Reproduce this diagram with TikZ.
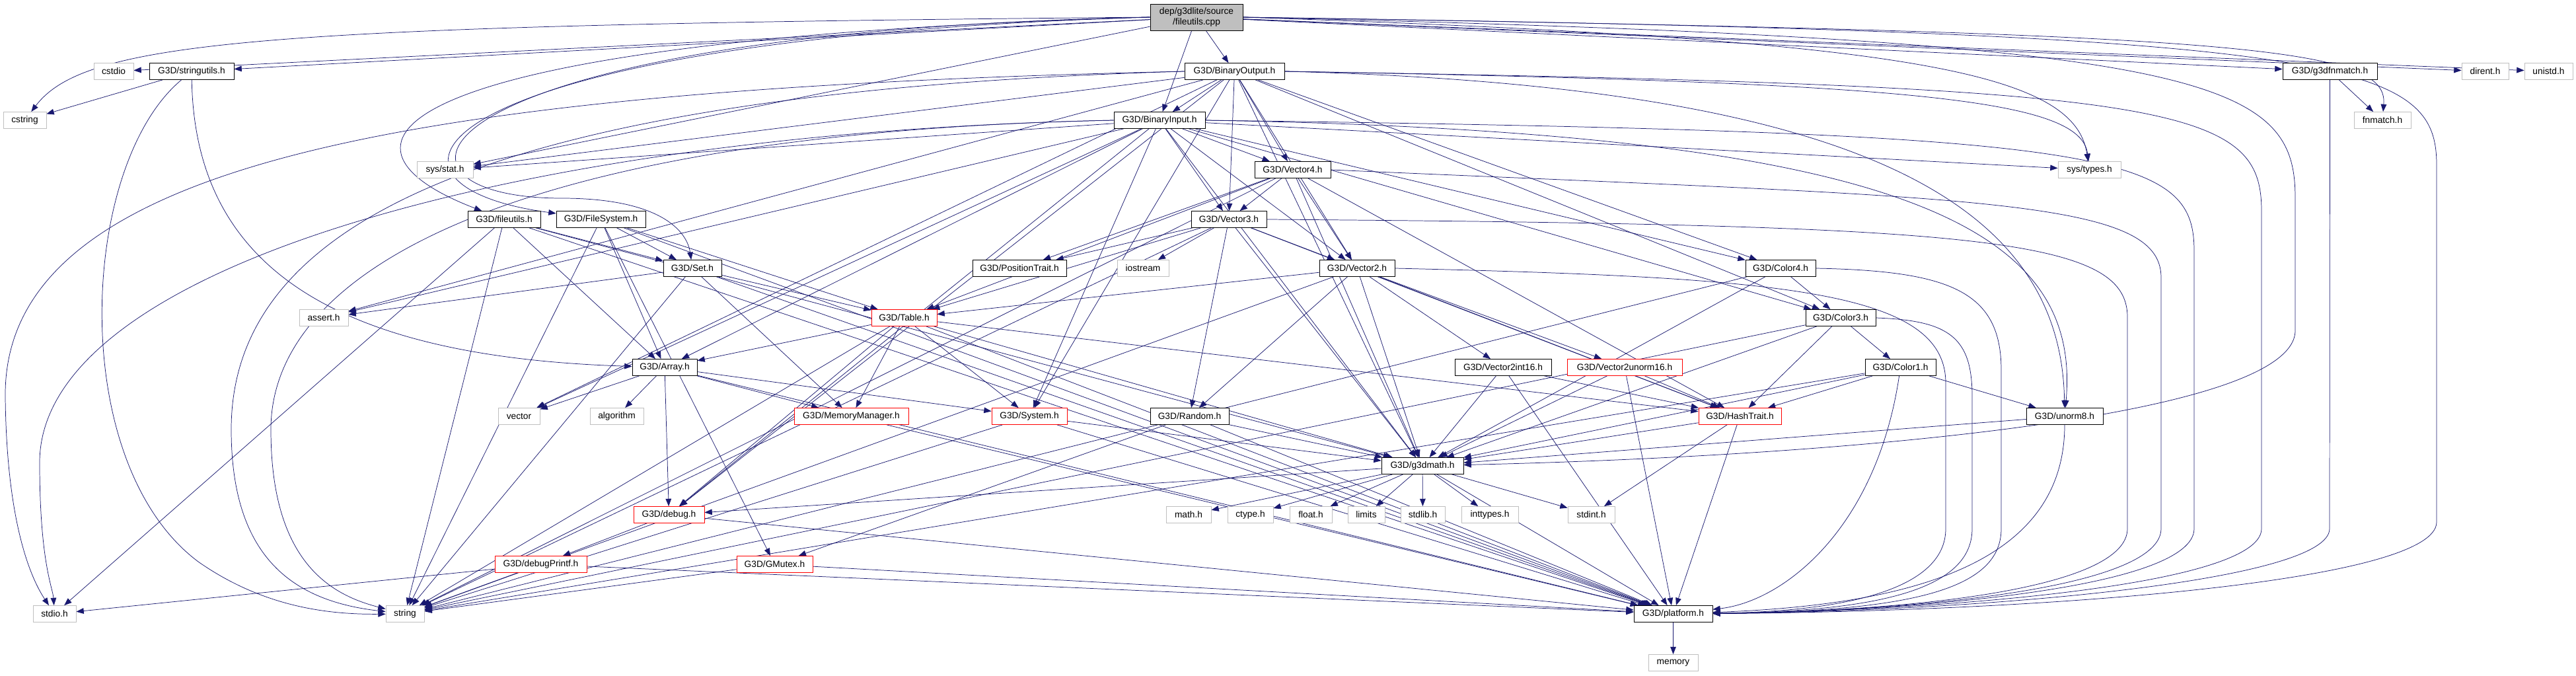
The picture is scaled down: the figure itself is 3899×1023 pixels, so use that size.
\documentclass[tikz,border=0pt]{standalone}
\usepackage{fontspec}
\setmainfont{Liberation Sans}
\usepackage{xcolor}
\usetikzlibrary{arrows.meta,backgrounds}
\definecolor{edgeblue}{RGB}{25,25,112}
\definecolor{sysgray}{RGB}{191,191,191}

\tikzset{
  hdr/.style={draw=black,fill=white,rectangle,line width=0.6pt,minimum height=18.75pt,inner sep=1pt,font=\fontsize{10.3}{12}\selectfont},
  syshdr/.style={hdr,draw=sysgray},
  cuthdr/.style={hdr,draw=red},
  wd/.style={minimum width=#1*0.75pt},
  dep/.style={draw=edgeblue,line width=0.55pt,-{Triangle[length=8.5pt,width=6.5pt]}}
}

\begin{document}
\begin{tikzpicture}[x=0.75pt,y=-0.75pt]
\useasboundingbox (0,0) rectangle (3899,1023);
% the file itself
\node[hdr,fill=sysgray,wd=140,minimum height=30pt,align=center] (fc) at (1811,26) {dep/g3dlite/source\\/fileutils.cpp};
% headers, row by row
\node[syshdr,wd=60] (cstdio) at (172,108) {cstdio};
\node[hdr,wd=128] (stringutils) at (290,108) {G3D/stringutils.h};
\node[hdr,wd=151] (binout) at (1868.5,108) {G3D/BinaryOutput.h};
\node[hdr,wd=143] (fnmatchg) at (3526.5,108) {G3D/g3dfnmatch.h};
\node[syshdr,wd=71] (dirent) at (3761.5,108) {dirent.h};
\node[syshdr,wd=73] (unistd) at (3857.5,108) {unistd.h};
\node[syshdr,wd=65] (cstring) at (37.5,182) {cstring};
\node[hdr,wd=138] (binin) at (1755,182) {G3D/BinaryInput.h};
\node[syshdr,wd=86] (fnmatch) at (3606,182) {fnmatch.h};
\node[syshdr,wd=85] (sysstat) at (673.5,257) {sys/stat.h};
\node[hdr,wd=115] (vec4) at (1956.5,257) {G3D/Vector4.h};
\node[syshdr,wd=95] (systypes) at (3162.5,257) {sys/types.h};
\node[hdr,wd=110] (fileutilsh) at (763,332) {G3D/fileutils.h};
\node[hdr,wd=135] (filesystem) at (909.5,332) {G3D/FileSystem.h};
\node[hdr,wd=114] (vec3) at (1860,332) {G3D/Vector3.h};
\node[hdr,wd=88] (set) at (1048,406) {G3D/Set.h};
\node[hdr,wd=142] (postrait) at (1543,406) {G3D/PositionTrait.h};
\node[syshdr,wd=78] (iostream) at (1730,406) {iostream};
\node[hdr,wd=114] (vec2) at (2054,406) {G3D/Vector2.h};
\node[hdr,wd=106] (color4) at (2695,406) {G3D/Color4.h};
\node[syshdr,wd=74] (assert) at (490,481) {assert.h};
\node[cuthdr,wd=99] (table) at (1368.5,481) {G3D/Table.h};
\node[hdr,wd=106] (color3) at (2786,481) {G3D/Color3.h};
\node[hdr,wd=98] (array) at (1006,556) {G3D/Array.h};
\node[hdr,wd=146] (v2i16) at (2275,556) {G3D/Vector2int16.h};
\node[cuthdr,wd=174] (v2u16) at (2459,556) {G3D/Vector2unorm16.h};
\node[hdr,wd=107] (color1) at (2876.5,556) {G3D/Color1.h};
\node[syshdr,wd=63] (vector) at (785.5,630) {vector};
\node[syshdr,wd=81] (algorithm) at (933.5,630) {algorithm};
\node[cuthdr,wd=173] (memmgr) at (1288.5,630) {G3D/MemoryManager.h};
\node[cuthdr,wd=114] (system) at (1558,630) {G3D/System.h};
\node[hdr,wd=119] (random) at (1800.5,630) {G3D/Random.h};
\node[cuthdr,wd=125] (hashtrait) at (2633.5,630) {G3D/HashTrait.h};
\node[hdr,wd=116] (unorm8) at (3125,630) {G3D/unorm8.h};
\node[hdr,wd=124] (g3dmath) at (2153,705) {G3D/g3dmath.h};
\node[cuthdr,wd=107] (debug) at (1012.5,779) {G3D/debug.h};
\node[syshdr,wd=68] (mathh) at (1799,779) {math.h};
\node[syshdr,wd=69] (ctype) at (1892.5,779) {ctype.h};
\node[syshdr,wd=64] (float) at (1984,779) {float.h};
\node[syshdr,wd=56] (limits) at (2068,779) {limits};
\node[syshdr,wd=67] (stdlib) at (2153.5,779) {stdlib.h};
\node[syshdr,wd=86] (inttypes) at (2255,779) {inttypes.h};
\node[syshdr,wd=71] (stdint) at (2408.5,779) {stdint.h};
\node[cuthdr,wd=139] (debugprintf) at (818.5,854) {G3D/debugPrintf.h};
\node[cuthdr,wd=115] (gmutex) at (1172.5,854) {G3D/GMutex.h};
\node[syshdr,wd=65] (stdio) at (82.5,929) {stdio.h};
\node[syshdr,wd=58] (string) at (613,929) {string};
\node[hdr,wd=119] (platform) at (2532.5,929) {G3D/platform.h};
\node[syshdr,wd=75] (memory) at (2532.5,1003) {memory};

\begin{scope}[on background layer]
\fill[white] (0,0) rectangle (3899,1023);
% includes of fileutils.cpp
\draw[dep] (fc.west) .. controls (400,38) and (130,60) .. (cstring);
\draw[dep] (fc) -- (cstdio);
\draw[dep] (fc) -- (stringutils);
\draw[dep] (fc) -- (binout);
\draw[dep] (fc) -- (binin);
\draw[dep] (fc.west) .. controls (560,60) and (470,220) .. (fileutilsh);
\draw[dep] (fc.west) .. controls (620,60) and (520,280) .. (filesystem);
\draw[dep] (fc.west) .. controls (600,50) and (540,300) .. (850,300) .. controls (1000,300) and (1040,350) .. (set);
\draw[dep] (fc) -- (sysstat);
\draw[dep] (fc.east) .. controls (2900,60) and (3140,110) .. (systypes);
\draw[dep] (fc) -- (fnmatchg);
\draw[dep] (fc.east) .. controls (3400,50) and (3615,70) .. (fnmatch);
\draw[dep] (fc) -- (dirent);
\draw[dep] (fc) -- (unistd);
\draw[dep] (fc.east) .. controls (3550,50) and (3688,90) .. (3688,250) -- (3688,790) .. controls (3688,880) and (3100,925) .. (platform);
\draw[dep] (fc.east) .. controls (3350,60) and (3474,120) .. (3474,300) -- (3474,500) .. controls (3474,630) and (2800,690) .. (g3dmath);
% BinaryOutput
\draw[dep] (binout) -- (binin);
\draw[dep] (binout) -- (sysstat);
\draw[dep] (binout.east) .. controls (2900,125) and (3150,150) .. (systypes);
\draw[dep] (binout.west) .. controls (600,135) and (5,250) .. (8,600) .. controls (10,800) and (50,880) .. (stdio);
\draw[dep] (binout.west) .. controls (700,140) and (350,350) .. (350,650) .. controls (350,850) and (450,910) .. (string);
\draw[dep] (binout) -- (assert);
\draw[dep] (binout) -- (vector);
\draw[dep] (binout) -- (debug);
\draw[dep] (binout) -- (system);
\draw[dep] (binout) -- (g3dmath);
\draw[dep] (binout) -- (vec2);
\draw[dep] (binout) -- (vec3);
\draw[dep] (binout) -- (vec4);
\draw[dep] (binout) -- (color3);
\draw[dep] (binout) -- (color4);
\draw[dep] (binout.east) .. controls (2800,130) and (3120,300) .. (unorm8);
\draw[dep] (binout.east) .. controls (3300,130) and (3423,160) .. (3423,320) -- (3423,800) .. controls (3423,890) and (2900,925) .. (platform);
% BinaryInput
\draw[dep] (binin) -- (sysstat);
\draw[dep] (binin) -- (systypes);
\draw[dep] (binin.west) .. controls (800,200) and (60,400) .. (60,700) .. controls (60,850) and (80,890) .. (stdio);
\draw[dep] (binin.west) .. controls (800,200) and (410,400) .. (410,650) .. controls (410,850) and (500,900) .. (string);
\draw[dep] (binin) -- (assert);
\draw[dep] (binin) -- (vector);
\draw[dep] (binin) -- (debug);
\draw[dep] (binin) -- (system);
\draw[dep] (binin) -- (array);
\draw[dep] (binin) -- (g3dmath);
\draw[dep] (binin) -- (vec2);
\draw[dep] (binin) -- (vec3);
\draw[dep] (binin) -- (vec4);
\draw[dep] (binin) -- (color3);
\draw[dep] (binin) -- (color4);
\draw[dep] (binin.east) .. controls (2900,200) and (3150,350) .. (unorm8);
\draw[dep] (binin.east) .. controls (3200,200) and (3321,230) .. (3321,380) -- (3321,800) .. controls (3321,890) and (2900,925) .. (platform);
% stringutils, fileutils, FileSystem
\draw[dep] (stringutils) -- (cstring);
\draw[dep] (stringutils) .. controls (120,250) and (100,700) .. (300,850) .. controls (400,920) and (500,930) .. (string);
\draw[dep] (stringutils) .. controls (295,400) and (500,540) .. (array);
\draw[dep] (fileutilsh) -- (stdio);
\draw[dep] (fileutilsh) -- (string);
\draw[dep] (fileutilsh) -- (array);
\draw[dep] (fileutilsh) -- (set);
\draw[dep] (fileutilsh) -- (g3dmath);
\draw[dep] (fileutilsh) -- (platform);
\draw[dep] (filesystem) -- (array);
\draw[dep] (filesystem) -- (set);
\draw[dep] (filesystem) -- (table);
\draw[dep] (filesystem) -- (gmutex);
\draw[dep] (filesystem) -- (string);
\draw[dep] (filesystem) -- (platform);
% containers
\draw[dep] (set) -- (assert);
\draw[dep] (set) -- (table);
\draw[dep] (set) -- (memmgr);
\draw[dep] (set) -- (string);
\draw[dep] (set) -- (platform);
\draw[dep] (table) -- (array);
\draw[dep] (table) -- (memmgr);
\draw[dep] (table) -- (system);
\draw[dep] (table) -- (debug);
\draw[dep] (table) -- (string);
\draw[dep] (table) -- (g3dmath);
\draw[dep] (table) -- (hashtrait);
\draw[dep] (table) -- (platform);
\draw[dep] (array) -- (vector);
\draw[dep] (array) -- (algorithm);
\draw[dep] (array) -- (memmgr);
\draw[dep] (array) -- (system);
\draw[dep] (array) -- (debug);
\draw[dep] (array) -- (platform);
\draw[dep] (memmgr) -- (platform);
\draw[dep] (system) -- (platform);
\draw[dep] (system) -- (g3dmath);
\draw[dep] (system) -- (string);
\draw[dep] (random) -- (platform);
\draw[dep] (random) -- (g3dmath);
\draw[dep] (random) -- (gmutex);
% vectors
\draw[dep] (vec4) -- (table);
\draw[dep] (vec4) -- (postrait);
\draw[dep] (vec4) -- (vec3);
\draw[dep] (vec4) -- (vec2);
\draw[dep] (vec4) -- (g3dmath);
\draw[dep] (vec4) -- (hashtrait);
\draw[dep] (vec4) -- (string);
\draw[dep] (vec4.east) .. controls (3000,300) and (3271,300) .. (3271,420) -- (3271,800) .. controls (3271,890) and (2900,925) .. (platform);
\draw[dep] (vec3) -- (postrait);
\draw[dep] (vec3) -- (iostream);
\draw[dep] (vec3) -- (vec2);
\draw[dep] (vec3) -- (table);
\draw[dep] (vec3) -- (random);
\draw[dep] (vec3) -- (g3dmath);
\draw[dep] (vec3) -- (hashtrait);
\draw[dep] (vec3) -- (string);
\draw[dep] (vec3.east) .. controls (3000,340) and (3220,360) .. (3220,480) -- (3220,800) .. controls (3220,890) and (2900,925) .. (platform);
\draw[dep] (vec2) -- (table);
\draw[dep] (vec2) -- (hashtrait);
\draw[dep] (vec2) -- (v2i16);
\draw[dep] (vec2) -- (v2u16);
\draw[dep] (vec2) -- (random);
\draw[dep] (vec2) -- (g3dmath);
\draw[dep] (vec2) -- (string);
\draw[dep] (vec2.east) .. controls (2700,420) and (2945,440) .. (2945,580) -- (2945,800) .. controls (2945,890) and (2800,925) .. (platform);
\draw[dep] (v2i16) -- (hashtrait);
\draw[dep] (v2i16) -- (g3dmath);
\draw[dep] (v2i16) -- (platform);
\draw[dep] (v2u16) -- (hashtrait);
\draw[dep] (v2u16) -- (g3dmath);
\draw[dep] (v2u16) -- (platform);
% colours
\draw[dep] (color4) -- (color3);
\draw[dep] (color4) -- (g3dmath);
\draw[dep] (color4) -- (string);
\draw[dep] (color4.east) .. controls (2950,410) and (3029,440) .. (3029,560) -- (3029,800) .. controls (3029,890) and (2900,925) .. (platform);
\draw[dep] (color3) -- (color1);
\draw[dep] (color3) -- (hashtrait);
\draw[dep] (color3) -- (g3dmath);
\draw[dep] (color3) -- (string);
\draw[dep] (color3.east) .. controls (2950,485) and (2985,510) .. (2985,600) -- (2985,800) .. controls (2985,890) and (2850,925) .. (platform);
\draw[dep] (color1) -- (hashtrait);
\draw[dep] (color1) -- (unorm8);
\draw[dep] (color1) -- (g3dmath);
\draw[dep] (color1) -- (string);
\draw[dep] (color1) .. controls (2840,800) and (2700,910) .. (platform);
\draw[dep] (hashtrait) -- (g3dmath);
\draw[dep] (hashtrait) -- (stdint);
\draw[dep] (hashtrait) -- (platform);
\draw[dep] (unorm8) -- (g3dmath);
\draw[dep] (unorm8) .. controls (3125,850) and (2900,915) .. (platform);
% math and base
\draw[dep] (g3dmath) -- (debug);
\draw[dep] (g3dmath) -- (mathh);
\draw[dep] (g3dmath) -- (ctype);
\draw[dep] (g3dmath) -- (float);
\draw[dep] (g3dmath) -- (limits);
\draw[dep] (g3dmath) -- (stdlib);
\draw[dep] (g3dmath) -- (inttypes);
\draw[dep] (g3dmath) -- (stdint);
\draw[dep] (g3dmath) -- (platform);
\draw[dep] (debug) -- (debugprintf);
\draw[dep] (debug) -- (platform);
\draw[dep] (debugprintf) -- (stdio);
\draw[dep] (debugprintf) -- (string);
\draw[dep] (debugprintf) -- (platform);
\draw[dep] (gmutex) -- (string);
\draw[dep] (gmutex) -- (platform);
\draw[dep] (platform) -- (memory);
\draw[dep] (fnmatchg) -- (fnmatch);
\draw[dep] (fnmatchg) -- (3526,800) .. controls (3526,880) and (3000,925) .. (platform);
\end{scope}
\end{tikzpicture}
\end{document}
